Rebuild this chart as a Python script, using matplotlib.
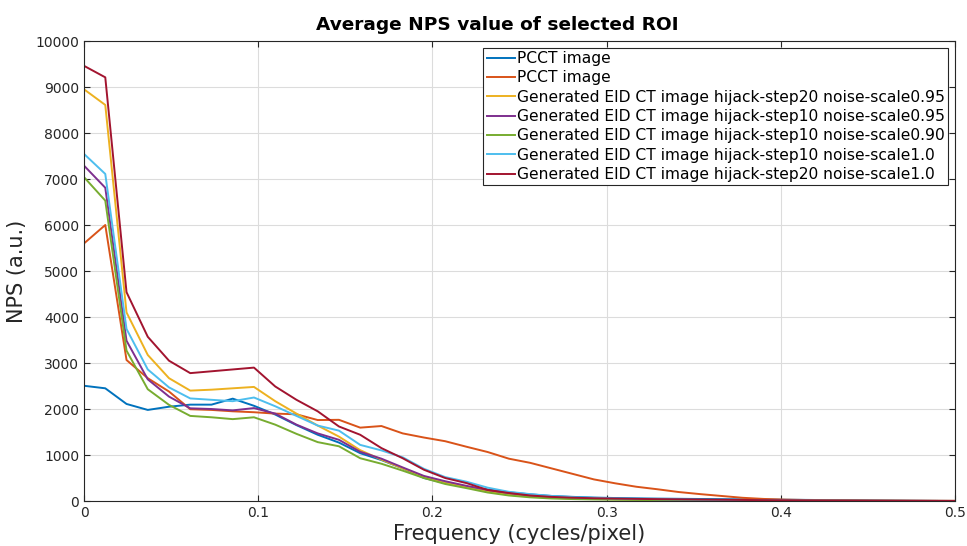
import numpy as np
import matplotlib
matplotlib.use("Agg")
import matplotlib.pyplot as plt

# frequency samples (42 points, 0 .. 0.5 cycles/pixel)
freq = np.arange(42) / 82

labels = [
    "PCCT image",
    "PCCT image",
    "Generated EID CT image hijack-step20 noise-scale0.95",
    "Generated EID CT image hijack-step10 noise-scale0.95",
    "Generated EID CT image hijack-step10 noise-scale0.90",
    "Generated EID CT image hijack-step10 noise-scale1.0",
    "Generated EID CT image hijack-step20 noise-scale1.0",
]
colors = ["#0072BD", "#D95319", "#EDB120", "#7E2F8E", "#77AC30", "#4DBEEE", "#A2142F"]

pcct_a = [2505, 2450, 2110, 1980, 2050, 2095, 2095, 2225, 2070, 1880,
          1650, 1440, 1270, 1040, 890, 710, 500, 390, 310, 250,
          190, 145, 110, 90, 75, 65, 58, 52, 48, 44,
          40, 36, 32, 28, 24, 20, 16, 12, 9, 6, 4, 2]
pcct_b = [5600, 6000, 3065, 2670, 2380, 1995, 1980, 1950, 1930, 1900,
          1885, 1760, 1765, 1595, 1630, 1470, 1380, 1300, 1180, 1065,
          920, 830, 710, 590, 470, 385, 310, 255, 195, 150,
          110, 70, 45, 30, 22, 18, 15, 12, 10, 8, 6, 5]
eid_s20_n095 = [8950, 8610, 4100, 3175, 2670, 2400, 2420, 2450, 2480, 2170,
                1900, 1640, 1400, 1105, 900, 710, 530, 390, 310, 205,
                135, 95, 70, 55, 45, 38, 32, 27, 23, 19,
                16, 13, 10, 8, 6, 5, 4, 3, 2, 1, 1, 0]
eid_s10_n095 = [7290, 6810, 3485, 2645, 2270, 2015, 2000, 1970, 2020, 1900,
                1660, 1470, 1330, 1070, 920, 730, 545, 430, 330, 240,
                170, 120, 90, 70, 58, 48, 40, 34, 29, 24,
                20, 16, 13, 10, 8, 6, 5, 4, 3, 2, 1, 0]
eid_s10_n090 = [7040, 6530, 3270, 2430, 2090, 1850, 1820, 1780, 1820, 1660,
                1460, 1280, 1190, 930, 810, 660, 500, 370, 280, 185,
                120, 80, 55, 42, 34, 28, 23, 19, 16, 13,
                11, 9, 7, 6, 5, 4, 3, 2, 2, 1, 1, 0]
eid_s10_n100 = [7545, 7110, 3740, 2860, 2470, 2230, 2200, 2170, 2250, 2060,
                1850, 1640, 1530, 1220, 1100, 950, 700, 520, 420, 290,
                200, 150, 110, 85, 68, 56, 47, 40, 34, 28,
                23, 19, 15, 12, 10, 8, 6, 5, 3, 2, 1, 0]
eid_s20_n100 = [9460, 9210, 4540, 3570, 3050, 2780, 2820, 2860, 2900, 2490,
                2200, 1950, 1620, 1440, 1150, 930, 680, 500, 390, 240,
                175, 120, 90, 72, 60, 52, 46, 41, 36, 31,
                27, 23, 19, 16, 13, 10, 8, 6, 4, 3, 2, 1]

series = [pcct_a, pcct_b, eid_s20_n095, eid_s10_n095, eid_s10_n090, eid_s10_n100, eid_s20_n100]

fig = plt.figure(figsize=(9.67, 5.46), dpi=100)
ax = fig.add_axes([0.0869, 0.0824, 0.9007, 0.8425])

for y, c, lab in zip(series, colors, labels):
    ax.plot(freq, y, color=c, lw=1.4, label=lab)

ax.set_xlim(0, 0.5)
ax.set_ylim(0, 10000)
ax.set_xticks(np.arange(0, 0.51, 0.1))
ax.set_xticklabels(["0", "0.1", "0.2", "0.3", "0.4", "0.5"])
ax.set_yticks(np.arange(0, 10001, 1000))
ax.grid(True, color="#dcdcdc", lw=0.8)
ax.set_axisbelow(True)
ax.tick_params(direction="in", length=4, labelsize=10, colors="#262626",
               top=True, right=True)
for s in ax.spines.values():
    s.set_color("#262626")
    s.set_linewidth(0.8)

ax.set_title("Average NPS value of selected ROI", fontsize=13.3, fontweight="bold",
             x=0.475, pad=8)
ax.set_xlabel("Frequency (cycles/pixel)", fontsize=15, color="#262626", labelpad=3)
ax.set_ylabel("NPS (a.u.)", fontsize=15, color="#262626", labelpad=6)

leg = ax.legend(loc="upper right", bbox_to_anchor=(0.992, 0.985), fontsize=11.2,
                fancybox=False, framealpha=1, edgecolor="#262626",
                handlelength=1.85, handletextpad=0.1, labelspacing=0.28,
                borderpad=0.2, borderaxespad=0)
leg.get_frame().set_linewidth(0.8)

fig.savefig("out.png", dpi=100)
